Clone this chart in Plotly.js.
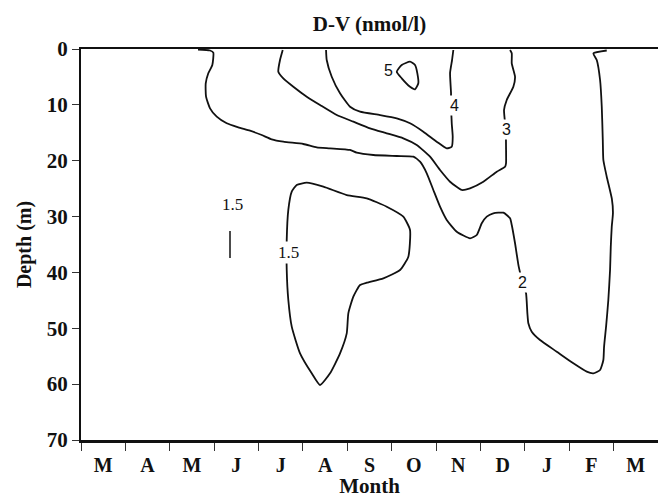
<!DOCTYPE html>
<html>
<head>
<meta charset="utf-8">
<script src="https://cdn.plot.ly/plotly-3.0.1.min.js"></script>
<style>
  html, body { margin: 0; padding: 0; background: #fff; }
  #chart { width: 658px; height: 498px; }
</style>
</head>
<body>
<div id="chart"></div>
<script>
// Month axis: one unit per month, March to March
const months = ['M', 'A', 'M', 'J', 'J', 'A', 'S', 'O', 'N', 'D', 'J', 'F', 'M'];
const depthTicks = [0, 10, 20, 30, 40, 50, 60, 70];

// Isoline levels of D-V (nmol/l)
const levels = [1.5, 2, 3, 4, 5];

// 1.5 nmol/l closed isoline (Jul-Sep, 24-60 m)
const c15Month = [5.086, 5.460, 5.987, 6.438, 6.888, 7.262, 7.413, 7.375, 7.188, 6.812, 6.438, 6.287,
  6.136, 6.023, 5.987, 5.836, 5.611, 5.385, 5.198, 4.935, 4.748, 4.671, 4.635, 4.635, 4.671, 4.748, 4.860, 5.086];
const c15Depth = [23.94, 24.65, 26.14, 26.73, 28.23, 30.02, 32.40, 37.18, 39.56, 41.05, 41.84, 42.25,
  44.34, 47.32, 50.90, 54.48, 58.06, 60.15, 58.06, 54.48, 49.71, 44.93, 39.56, 34.19, 28.82, 25.55, 24.35, 23.94];

// 2 nmol/l isoline (surface in May, down to 58 m in Feb, back to surface)
const c2Month = [2.636, 2.907, 2.981, 2.959, 2.868, 2.810, 2.817, 2.907, 3.058, 3.283, 3.544, 3.808, 4.072,
  4.297, 4.558, 5.009, 5.311, 5.611, 6.061, 6.212, 6.586, 7.114, 7.488, 7.639, 7.790, 7.938, 8.089, 8.240,
  8.466, 8.765, 8.916, 9.029, 9.142, 9.290, 9.516, 9.667, 9.705, 9.779, 9.862, 9.953, 10.027, 10.057, 10.079,
  10.155, 10.342, 10.719, 11.093, 11.395, 11.544, 11.695, 11.769, 11.785, 11.830, 11.881, 11.920, 11.936,
  11.958, 11.985, 11.960, 11.845, 11.769, 11.756, 11.733, 11.695, 11.620, 11.544, 11.845];
const c2Depth = [0.09, 0.27, 0.66, 2.86, 4.35, 6.14, 8.54, 10.62, 12.12, 13.30, 14.02, 14.63, 15.40,
  16.17, 16.60, 17.01, 17.60, 17.78, 18.08, 18.56, 18.98, 19.16, 19.28, 20.18, 22.25, 25.24, 28.23, 30.61,
  32.71, 33.89, 33.30, 31.20, 30.02, 29.41, 29.31, 30.31, 31.51, 34.78, 38.97, 41.95, 43.73, 47.32, 49.11,
  50.61, 52.10, 54.19, 56.27, 57.77, 58.06, 57.47, 55.68, 53.30, 49.71, 44.93, 39.56, 35.39,
  31.81, 29.41, 26.80, 22.86, 19.87, 16.29, 10.33, 5.55, 1.97, 0.77, 0.27];

// 3 nmol/l isoline
const c3Month = [4.545, 4.484, 4.446, 4.558, 4.784, 5.086, 5.385, 5.762, 6.136, 6.512, 6.888, 7.262, 7.564,
  7.864, 8.089, 8.315, 8.578, 8.765, 9.065, 9.367, 9.554, 9.576, 9.576, 9.570, 9.531, 9.592, 9.741, 9.779,
  9.705, 9.705, 9.667];
const c3Depth = [0.18, 1.97, 4.06, 5.25, 6.75, 8.54, 10.03, 11.82, 13.01, 14.20, 15.09, 15.99, 17.19,
  19.28, 21.66, 23.76, 25.24, 24.94, 23.76, 21.97, 21.07, 20.46, 17.49, 14.50, 10.92, 9.13, 6.75, 4.96,
  2.56, 0.77, 0.18];

// 4 nmol/l isoline
const c4Month = [5.521, 5.536, 5.649, 5.836, 6.061, 6.287, 6.737, 7.114, 7.413, 7.713, 8.015, 8.240, 8.353,
  8.375, 8.353, 8.337, 8.337, 8.315, 8.360, 8.389];
const c4Depth = [0.18, 1.97, 4.96, 7.93, 10.33, 11.22, 11.82, 12.41, 13.30, 14.80, 16.60, 17.78, 17.49,
  15.70, 13.30, 10.03, 7.88, 4.30, 1.97, 0.18];

// 5 nmol/l closed isoline (October, near surface)
const c5Month = [7.114, 7.226, 7.413, 7.526, 7.578, 7.600, 7.526, 7.413, 7.226, 7.114];
const c5Depth = [4.06, 2.86, 2.27, 2.86, 4.35, 6.14, 7.21, 6.75, 5.25, 4.06];

// Isolated 1.5 sample mark in June
const markMonth = [3.357, 3.357];
const markDepth = [32.6, 37.4];

// Isoline labels: level index into `levels`, position and typeface
const labelLevel = [0, 0, 1, 2, 3, 4];
const labelMonth = [3.414, 4.664, 9.948, 9.576, 8.416, 6.918];
const labelDepth = [27.75, 36.52, 41.89, 14.50, 10.03, 3.76];
const labelSerif = [true, true, false, false, false, false];

const serif = '"Liberation Serif", "Times New Roman", serif';
const sans = '"Liberation Sans", Arial, sans-serif';

function isoline(mx, dy) {
  return {
    type: 'scatter', mode: 'lines', x: mx, y: dy,
    line: { color: '#111', width: 1.8, shape: 'spline', smoothing: 0.5 },
    hoverinfo: 'skip', showlegend: false
  };
}

const traces = [
  isoline(c15Month, c15Depth),
  isoline(c2Month, c2Depth),
  isoline(c3Month, c3Depth),
  isoline(c4Month, c4Depth),
  isoline(c5Month, c5Depth),
  { type: 'scatter', mode: 'lines', x: markMonth, y: markDepth,
    line: { color: '#111', width: 1.5 }, hoverinfo: 'skip', showlegend: false }
];

const annotations = labelLevel.map((li, i) => ({
  x: labelMonth[i], y: labelDepth[i], xref: 'x', yref: 'y',
  text: String(levels[li]), showarrow: false,
  xanchor: 'center', yanchor: 'middle',
  bgcolor: '#fff', borderpad: 1,
  font: labelSerif[i]
    ? { family: serif, size: 17, color: '#111' }
    : { family: sans, size: 16, color: '#111' }
}));

const layout = {
  width: 658, height: 498,
  margin: { l: 81, r: 0, t: 49, b: 58 },
  paper_bgcolor: '#fff', plot_bgcolor: '#fff',
  title: {
    text: 'D-V (nmol/l)', x: 0.5615, xanchor: 'center',
    yref: 'container', y: 0.952, yanchor: 'middle',
    font: { family: serif, size: 21, color: '#111', weight: 'bold' }
  },
  xaxis: {
    range: [0, 13], showgrid: false, zeroline: false,
    showline: true, linecolor: '#111', linewidth: 2.5, mirror: true,
    tickmode: 'array', tickvals: months.map((_, i) => i + 0.5), ticktext: months,
    ticks: '', ticklabelstandoff: 5,
    tickfont: { family: serif, size: 20, color: '#111', weight: 'bold' },
    minor: { tick0: 0, dtick: 1, ticks: 'outside', ticklen: 8, tickwidth: 1, tickcolor: '#333', showgrid: false },
    title: { text: 'Month', standoff: 1,
      font: { family: serif, size: 21, color: '#111', weight: 'bold' } }
  },
  yaxis: {
    range: [70, 0], showgrid: false, zeroline: false,
    showline: true, linecolor: '#111', linewidth: 2,
    tickmode: 'array', tickvals: depthTicks,
    ticks: 'outside', ticklen: 7, tickwidth: 1, tickcolor: '#333',
    tickfont: { family: serif, size: 21, color: '#111', weight: 'bold' },
    title: { text: 'Depth (m)', standoff: 10,
      font: { family: serif, size: 20, color: '#111', weight: 'bold' } }
  },
  annotations: annotations
};

Plotly.newPlot('chart', traces, layout, { staticPlot: true, displayModeBar: false });
</script>
</body>
</html>
